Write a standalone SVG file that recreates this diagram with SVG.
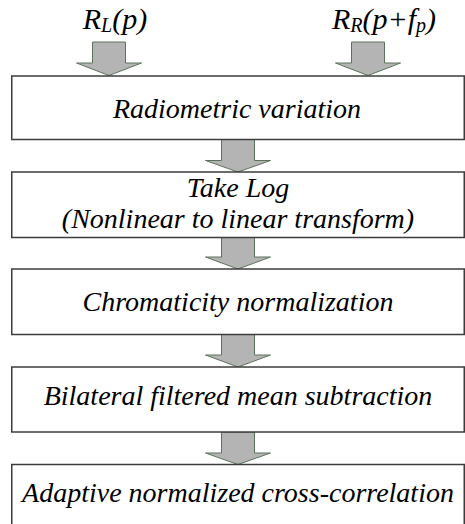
<svg xmlns="http://www.w3.org/2000/svg" width="465" height="524" viewBox="0 0 465 524">
  <style>
    .box { fill: #ffffff; stroke: #3c3c3c; stroke-width: 1.5; }
    .arrow { fill: #b4b4b4; stroke: #5a735a; stroke-width: 1; }
  </style>
  <rect width="465" height="524" fill="#ffffff"/>

  <!-- block arrows -->
  <g id="connectors">
    <polygon class="arrow" points="92.5,42 125.5,42 125.5,63 141.5,63 109,75.5 76.5,63 92.5,63"/>
    <polygon class="arrow" points="351.5,42 384.5,42 384.5,63 400.5,63 368,75.5 335.5,63 351.5,63"/>
    <polygon class="arrow" points="221.5,139.5 254.5,139.5 254.5,160.5 270.5,160.5 238,172 205.5,160.5 221.5,160.5"/>
    <polygon class="arrow" points="221.5,237.5 254.5,237.5 254.5,257 270.5,257 238,269 205.5,257 221.5,257"/>
    <polygon class="arrow" points="221.5,334.5 254.5,334.5 254.5,355 270.5,355 238,367 205.5,355 221.5,355"/>
    <polygon class="arrow" points="221.5,432 254.5,432 254.5,453 270.5,453 238,464.5 205.5,453 221.5,453"/>
  </g>

  <!-- inputs -->
  <g id="input-left">
    <text x="115" y="29" font-family="Liberation Serif" font-style="italic" font-size="30" text-anchor="middle">R<tspan font-size="20" dy="3">L</tspan><tspan dy="-3">(p)</tspan></text>
  </g>
  <g id="input-right">
    <text x="384" y="29" font-family="Liberation Serif" font-style="italic" font-size="30" text-anchor="middle">R<tspan font-size="20" dy="3">R</tspan><tspan dy="-3">(p+f</tspan><tspan font-size="20" dy="3">p</tspan><tspan dy="-3">)</tspan></text>
  </g>

  <g id="radiometric">
    <rect class="box" x="11.75" y="76" width="452.5" height="63.5"/>
    <text x="237" y="118" font-family="Liberation Serif" font-style="italic" font-size="28" text-anchor="middle">Radiometric variation</text>
  </g>

  <g id="take-log">
    <rect class="box" x="11.75" y="172" width="452.5" height="65.5"/>
    <text x="238" y="197" font-family="Liberation Serif" font-style="italic" font-size="28" text-anchor="middle">Take Log</text>
    <text x="238" y="228" font-family="Liberation Serif" font-style="italic" font-size="28" text-anchor="middle">(Nonlinear to linear transform)</text>
  </g>

  <g id="chromaticity">
    <rect class="box" x="11.75" y="269" width="452.5" height="65.5"/>
    <text x="238" y="311" font-family="Liberation Serif" font-style="italic" font-size="28" text-anchor="middle">Chromaticity normalization</text>
  </g>

  <g id="bilateral">
    <rect class="box" x="11.75" y="367" width="452.5" height="65"/>
    <text x="238" y="405" font-family="Liberation Serif" font-style="italic" font-size="28" text-anchor="middle">Bilateral filtered mean subtraction</text>
  </g>

  <g id="adaptive-ncc">
    <rect class="box" x="11.75" y="464.5" width="452.5" height="70"/>
    <text x="238" y="502" font-family="Liberation Serif" font-style="italic" font-size="28" text-anchor="middle">Adaptive normalized cross-correlation</text>
  </g>
</svg>
